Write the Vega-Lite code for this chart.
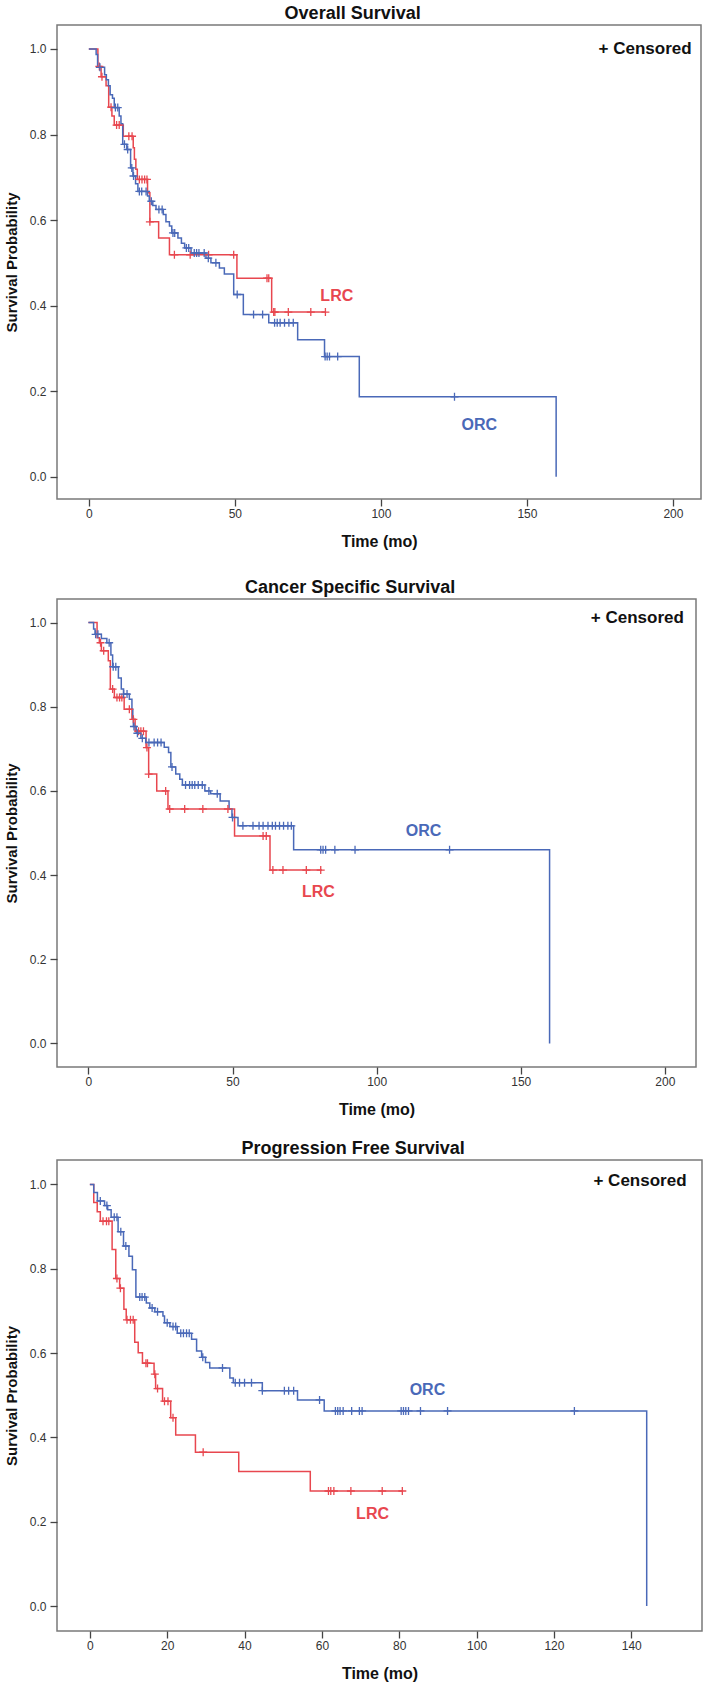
{
  "$schema": "https://vega.github.io/schema/vega-lite/v6.json",
  "padding": {"left": 3, "top": 4, "right": 5, "bottom": 4},
  "config": {
    "font": "Liberation Sans",
    "view": {"stroke": "#7a7a7a", "strokeWidth": 1.5},
    "axis": {
      "grid": false,
      "domain": false,
      "tickColor": "#444",
      "tickSize": 7,
      "tickWidth": 1.3,
      "labelFont": "Liberation Sans",
      "labelFontSize": 12,
      "labelColor": "#333",
      "titleFont": "Liberation Sans",
      "titleFontSize": 16,
      "titleFontWeight": "bold",
      "titleColor": "#111"
    },
    "axisX": {"labelPadding": 2, "titlePadding": 14},
    "axisY": {"labelPadding": 4, "titlePadding": 10, "titleFontSize": 15},
    "title": {"font": "Liberation Sans", "fontSize": 18, "fontWeight": "bold", "color": "#111", "offset": 2, "anchor": "middle", "frame": "bounds"}
  },
  "datasets": {
    "curves": [
      {"panel": "OS", "group": "LRC", "time": 0, "surv": 1},
      {"panel": "OS", "group": "LRC", "time": 3.1, "surv": 0.959},
      {"panel": "OS", "group": "LRC", "time": 4.2, "surv": 0.935},
      {"panel": "OS", "group": "LRC", "time": 5.9, "surv": 0.914},
      {"panel": "OS", "group": "LRC", "time": 6.8, "surv": 0.864},
      {"panel": "OS", "group": "LRC", "time": 7.9, "surv": 0.843},
      {"panel": "OS", "group": "LRC", "time": 8.7, "surv": 0.822},
      {"panel": "OS", "group": "LRC", "time": 11.8, "surv": 0.796},
      {"panel": "OS", "group": "LRC", "time": 15.2, "surv": 0.769},
      {"panel": "OS", "group": "LRC", "time": 15.6, "surv": 0.742},
      {"panel": "OS", "group": "LRC", "time": 16.1, "surv": 0.719},
      {"panel": "OS", "group": "LRC", "time": 16.6, "surv": 0.695},
      {"panel": "OS", "group": "LRC", "time": 20.1, "surv": 0.664},
      {"panel": "OS", "group": "LRC", "time": 20.9, "surv": 0.596},
      {"panel": "OS", "group": "LRC", "time": 23.9, "surv": 0.558},
      {"panel": "OS", "group": "LRC", "time": 27.6, "surv": 0.519},
      {"panel": "OS", "group": "LRC", "time": 50.7, "surv": 0.464},
      {"panel": "OS", "group": "LRC", "time": 62.6, "surv": 0.385},
      {"panel": "OS", "group": "LRC", "time": 81, "surv": 0.385},
      {"panel": "OS", "group": "ORC", "time": 0, "surv": 1},
      {"panel": "OS", "group": "ORC", "time": 2.5, "surv": 0.987},
      {"panel": "OS", "group": "ORC", "time": 3.0, "surv": 0.957},
      {"panel": "OS", "group": "ORC", "time": 5.4, "surv": 0.94},
      {"panel": "OS", "group": "ORC", "time": 6.0, "surv": 0.928},
      {"panel": "OS", "group": "ORC", "time": 6.7, "surv": 0.914},
      {"panel": "OS", "group": "ORC", "time": 7.3, "surv": 0.893},
      {"panel": "OS", "group": "ORC", "time": 8.1, "surv": 0.885},
      {"panel": "OS", "group": "ORC", "time": 8.7, "surv": 0.863},
      {"panel": "OS", "group": "ORC", "time": 10.4, "surv": 0.843},
      {"panel": "OS", "group": "ORC", "time": 11.0, "surv": 0.825},
      {"panel": "OS", "group": "ORC", "time": 11.6, "surv": 0.777},
      {"panel": "OS", "group": "ORC", "time": 13.0, "surv": 0.765},
      {"panel": "OS", "group": "ORC", "time": 14.3, "surv": 0.722},
      {"panel": "OS", "group": "ORC", "time": 15.1, "surv": 0.703},
      {"panel": "OS", "group": "ORC", "time": 16.0, "surv": 0.685},
      {"panel": "OS", "group": "ORC", "time": 16.8, "surv": 0.667},
      {"panel": "OS", "group": "ORC", "time": 20.1, "surv": 0.656},
      {"panel": "OS", "group": "ORC", "time": 20.7, "surv": 0.644},
      {"panel": "OS", "group": "ORC", "time": 21.9, "surv": 0.634},
      {"panel": "OS", "group": "ORC", "time": 23.0, "surv": 0.625},
      {"panel": "OS", "group": "ORC", "time": 25.5, "surv": 0.613},
      {"panel": "OS", "group": "ORC", "time": 26.4, "surv": 0.596},
      {"panel": "OS", "group": "ORC", "time": 27.6, "surv": 0.586},
      {"panel": "OS", "group": "ORC", "time": 28.4, "surv": 0.57},
      {"panel": "OS", "group": "ORC", "time": 30.5, "surv": 0.558},
      {"panel": "OS", "group": "ORC", "time": 31.7, "surv": 0.546},
      {"panel": "OS", "group": "ORC", "time": 32.8, "surv": 0.535},
      {"panel": "OS", "group": "ORC", "time": 35.0, "surv": 0.523},
      {"panel": "OS", "group": "ORC", "time": 40.1, "surv": 0.511},
      {"panel": "OS", "group": "ORC", "time": 41.8, "surv": 0.5},
      {"panel": "OS", "group": "ORC", "time": 44.7, "surv": 0.488},
      {"panel": "OS", "group": "ORC", "time": 46.4, "surv": 0.474},
      {"panel": "OS", "group": "ORC", "time": 49.6, "surv": 0.426},
      {"panel": "OS", "group": "ORC", "time": 52.9, "surv": 0.379},
      {"panel": "OS", "group": "ORC", "time": 61.6, "surv": 0.36},
      {"panel": "OS", "group": "ORC", "time": 71.5, "surv": 0.32},
      {"panel": "OS", "group": "ORC", "time": 80.7, "surv": 0.281},
      {"panel": "OS", "group": "ORC", "time": 92.6, "surv": 0.187},
      {"panel": "OS", "group": "ORC", "time": 160, "surv": 0},
      {"panel": "CSS", "group": "LRC", "time": 0, "surv": 1},
      {"panel": "CSS", "group": "LRC", "time": 3.0, "surv": 0.964},
      {"panel": "CSS", "group": "LRC", "time": 3.8, "surv": 0.952},
      {"panel": "CSS", "group": "LRC", "time": 4.5, "surv": 0.933},
      {"panel": "CSS", "group": "LRC", "time": 6.9, "surv": 0.909},
      {"panel": "CSS", "group": "LRC", "time": 7.6, "surv": 0.842},
      {"panel": "CSS", "group": "LRC", "time": 9.0, "surv": 0.822},
      {"panel": "CSS", "group": "LRC", "time": 12.4, "surv": 0.794},
      {"panel": "CSS", "group": "LRC", "time": 15.1, "surv": 0.77},
      {"panel": "CSS", "group": "LRC", "time": 16.2, "surv": 0.742},
      {"panel": "CSS", "group": "LRC", "time": 20.0, "surv": 0.703},
      {"panel": "CSS", "group": "LRC", "time": 20.9, "surv": 0.64},
      {"panel": "CSS", "group": "LRC", "time": 23.7, "surv": 0.6},
      {"panel": "CSS", "group": "LRC", "time": 27.6, "surv": 0.557},
      {"panel": "CSS", "group": "LRC", "time": 50.7, "surv": 0.493},
      {"panel": "CSS", "group": "LRC", "time": 63, "surv": 0.412},
      {"panel": "CSS", "group": "LRC", "time": 81, "surv": 0.412},
      {"panel": "CSS", "group": "ORC", "time": 0, "surv": 1},
      {"panel": "CSS", "group": "ORC", "time": 1.8, "surv": 0.985},
      {"panel": "CSS", "group": "ORC", "time": 2.3, "surv": 0.972},
      {"panel": "CSS", "group": "ORC", "time": 4.5, "surv": 0.962},
      {"panel": "CSS", "group": "ORC", "time": 6.4, "surv": 0.952},
      {"panel": "CSS", "group": "ORC", "time": 7.8, "surv": 0.923},
      {"panel": "CSS", "group": "ORC", "time": 8.4, "surv": 0.895},
      {"panel": "CSS", "group": "ORC", "time": 10.4, "surv": 0.868},
      {"panel": "CSS", "group": "ORC", "time": 11.4, "surv": 0.842},
      {"panel": "CSS", "group": "ORC", "time": 12.2, "surv": 0.83},
      {"panel": "CSS", "group": "ORC", "time": 14.2, "surv": 0.818},
      {"panel": "CSS", "group": "ORC", "time": 15.1, "surv": 0.794},
      {"panel": "CSS", "group": "ORC", "time": 15.4, "surv": 0.774},
      {"panel": "CSS", "group": "ORC", "time": 15.6, "surv": 0.753},
      {"panel": "CSS", "group": "ORC", "time": 16.6, "surv": 0.737},
      {"panel": "CSS", "group": "ORC", "time": 18.2, "surv": 0.725},
      {"panel": "CSS", "group": "ORC", "time": 19.9, "surv": 0.715},
      {"panel": "CSS", "group": "ORC", "time": 26.3, "surv": 0.704},
      {"panel": "CSS", "group": "ORC", "time": 27.8, "surv": 0.691},
      {"panel": "CSS", "group": "ORC", "time": 28.6, "surv": 0.657},
      {"panel": "CSS", "group": "ORC", "time": 30.3, "surv": 0.64},
      {"panel": "CSS", "group": "ORC", "time": 31.7, "surv": 0.628},
      {"panel": "CSS", "group": "ORC", "time": 32.6, "surv": 0.614},
      {"panel": "CSS", "group": "ORC", "time": 40.4, "surv": 0.6},
      {"panel": "CSS", "group": "ORC", "time": 42.4, "surv": 0.593},
      {"panel": "CSS", "group": "ORC", "time": 45.7, "surv": 0.576},
      {"panel": "CSS", "group": "ORC", "time": 48.8, "surv": 0.557},
      {"panel": "CSS", "group": "ORC", "time": 49.8, "surv": 0.537},
      {"panel": "CSS", "group": "ORC", "time": 51.9, "surv": 0.517},
      {"panel": "CSS", "group": "ORC", "time": 71.2, "surv": 0.46},
      {"panel": "CSS", "group": "ORC", "time": 160, "surv": 0},
      {"panel": "PFS", "group": "LRC", "time": 0, "surv": 1},
      {"panel": "PFS", "group": "LRC", "time": 1.0, "surv": 0.957},
      {"panel": "PFS", "group": "LRC", "time": 1.9, "surv": 0.935},
      {"panel": "PFS", "group": "LRC", "time": 2.7, "surv": 0.913},
      {"panel": "PFS", "group": "LRC", "time": 5.75, "surv": 0.846},
      {"panel": "PFS", "group": "LRC", "time": 6.7, "surv": 0.777},
      {"panel": "PFS", "group": "LRC", "time": 7.7, "surv": 0.754},
      {"panel": "PFS", "group": "LRC", "time": 8.8, "surv": 0.704},
      {"panel": "PFS", "group": "LRC", "time": 9.4, "surv": 0.679},
      {"panel": "PFS", "group": "LRC", "time": 11.6, "surv": 0.626},
      {"panel": "PFS", "group": "LRC", "time": 12.5, "surv": 0.601},
      {"panel": "PFS", "group": "LRC", "time": 13.6, "surv": 0.576},
      {"panel": "PFS", "group": "LRC", "time": 16.6, "surv": 0.55},
      {"panel": "PFS", "group": "LRC", "time": 17.0, "surv": 0.516},
      {"panel": "PFS", "group": "LRC", "time": 18.8, "surv": 0.486},
      {"panel": "PFS", "group": "LRC", "time": 20.9, "surv": 0.447},
      {"panel": "PFS", "group": "LRC", "time": 22.2, "surv": 0.406},
      {"panel": "PFS", "group": "LRC", "time": 27.3, "surv": 0.365},
      {"panel": "PFS", "group": "LRC", "time": 38.5, "surv": 0.319},
      {"panel": "PFS", "group": "LRC", "time": 57.0, "surv": 0.273},
      {"panel": "PFS", "group": "LRC", "time": 81, "surv": 0.273},
      {"panel": "PFS", "group": "ORC", "time": 0, "surv": 1},
      {"panel": "PFS", "group": "ORC", "time": 1.0, "surv": 0.981},
      {"panel": "PFS", "group": "ORC", "time": 1.95, "surv": 0.961},
      {"panel": "PFS", "group": "ORC", "time": 3.8, "surv": 0.95},
      {"panel": "PFS", "group": "ORC", "time": 4.6, "surv": 0.94},
      {"panel": "PFS", "group": "ORC", "time": 5.5, "surv": 0.922},
      {"panel": "PFS", "group": "ORC", "time": 7.3, "surv": 0.888},
      {"panel": "PFS", "group": "ORC", "time": 8.7, "surv": 0.854},
      {"panel": "PFS", "group": "ORC", "time": 10.1, "surv": 0.83},
      {"panel": "PFS", "group": "ORC", "time": 11.0, "surv": 0.798},
      {"panel": "PFS", "group": "ORC", "time": 11.9, "surv": 0.733},
      {"panel": "PFS", "group": "ORC", "time": 14.6, "surv": 0.719},
      {"panel": "PFS", "group": "ORC", "time": 15.5, "surv": 0.707},
      {"panel": "PFS", "group": "ORC", "time": 16.8, "surv": 0.698},
      {"panel": "PFS", "group": "ORC", "time": 18.9, "surv": 0.688},
      {"panel": "PFS", "group": "ORC", "time": 19.3, "surv": 0.672},
      {"panel": "PFS", "group": "ORC", "time": 20.7, "surv": 0.663},
      {"panel": "PFS", "group": "ORC", "time": 22.6, "surv": 0.647},
      {"panel": "PFS", "group": "ORC", "time": 26.3, "surv": 0.633},
      {"panel": "PFS", "group": "ORC", "time": 27.6, "surv": 0.605},
      {"panel": "PFS", "group": "ORC", "time": 28.9, "surv": 0.59},
      {"panel": "PFS", "group": "ORC", "time": 29.9, "surv": 0.578},
      {"panel": "PFS", "group": "ORC", "time": 31.0, "surv": 0.565},
      {"panel": "PFS", "group": "ORC", "time": 36.2, "surv": 0.541},
      {"panel": "PFS", "group": "ORC", "time": 37.1, "surv": 0.53},
      {"panel": "PFS", "group": "ORC", "time": 44.6, "surv": 0.511},
      {"panel": "PFS", "group": "ORC", "time": 53.7, "surv": 0.489},
      {"panel": "PFS", "group": "ORC", "time": 60.6, "surv": 0.463},
      {"panel": "PFS", "group": "ORC", "time": 144, "surv": 0}
    ],
    "censored": [
      {"panel": "OS", "group": "LRC", "time": 3.6, "surv": 0.959},
      {"panel": "OS", "group": "LRC", "time": 4.5, "surv": 0.935},
      {"panel": "OS", "group": "LRC", "time": 7.6, "surv": 0.864},
      {"panel": "OS", "group": "LRC", "time": 9.5, "surv": 0.822},
      {"panel": "OS", "group": "LRC", "time": 10.4, "surv": 0.822},
      {"panel": "OS", "group": "LRC", "time": 13.7, "surv": 0.796},
      {"panel": "OS", "group": "LRC", "time": 14.8, "surv": 0.796},
      {"panel": "OS", "group": "LRC", "time": 17.3, "surv": 0.695},
      {"panel": "OS", "group": "LRC", "time": 18.2, "surv": 0.695},
      {"panel": "OS", "group": "LRC", "time": 19.1, "surv": 0.695},
      {"panel": "OS", "group": "LRC", "time": 19.9, "surv": 0.695},
      {"panel": "OS", "group": "LRC", "time": 20.9, "surv": 0.596},
      {"panel": "OS", "group": "LRC", "time": 29.3, "surv": 0.519},
      {"panel": "OS", "group": "LRC", "time": 34.7, "surv": 0.519},
      {"panel": "OS", "group": "LRC", "time": 41, "surv": 0.519},
      {"panel": "OS", "group": "LRC", "time": 49.6, "surv": 0.519},
      {"panel": "OS", "group": "LRC", "time": 61, "surv": 0.464},
      {"panel": "OS", "group": "LRC", "time": 61.6, "surv": 0.464},
      {"panel": "OS", "group": "LRC", "time": 63.3, "surv": 0.385},
      {"panel": "OS", "group": "LRC", "time": 63.7, "surv": 0.385},
      {"panel": "OS", "group": "LRC", "time": 68.3, "surv": 0.385},
      {"panel": "OS", "group": "LRC", "time": 76, "surv": 0.385},
      {"panel": "OS", "group": "LRC", "time": 81, "surv": 0.385},
      {"panel": "OS", "group": "ORC", "time": 3.8, "surv": 0.957},
      {"panel": "OS", "group": "ORC", "time": 9.1, "surv": 0.863},
      {"panel": "OS", "group": "ORC", "time": 9.9, "surv": 0.863},
      {"panel": "OS", "group": "ORC", "time": 12.2, "surv": 0.777},
      {"panel": "OS", "group": "ORC", "time": 13.3, "surv": 0.765},
      {"panel": "OS", "group": "ORC", "time": 14.7, "surv": 0.722},
      {"panel": "OS", "group": "ORC", "time": 15.3, "surv": 0.703},
      {"panel": "OS", "group": "ORC", "time": 17.3, "surv": 0.667},
      {"panel": "OS", "group": "ORC", "time": 18.1, "surv": 0.667},
      {"panel": "OS", "group": "ORC", "time": 19.6, "surv": 0.667},
      {"panel": "OS", "group": "ORC", "time": 21.4, "surv": 0.644},
      {"panel": "OS", "group": "ORC", "time": 24.0, "surv": 0.625},
      {"panel": "OS", "group": "ORC", "time": 25.1, "surv": 0.625},
      {"panel": "OS", "group": "ORC", "time": 28.8, "surv": 0.57},
      {"panel": "OS", "group": "ORC", "time": 29.4, "surv": 0.57},
      {"panel": "OS", "group": "ORC", "time": 33.4, "surv": 0.535},
      {"panel": "OS", "group": "ORC", "time": 34.2, "surv": 0.535},
      {"panel": "OS", "group": "ORC", "time": 36.1, "surv": 0.523},
      {"panel": "OS", "group": "ORC", "time": 36.9, "surv": 0.523},
      {"panel": "OS", "group": "ORC", "time": 37.7, "surv": 0.523},
      {"panel": "OS", "group": "ORC", "time": 39.5, "surv": 0.523},
      {"panel": "OS", "group": "ORC", "time": 40.9, "surv": 0.511},
      {"panel": "OS", "group": "ORC", "time": 43.5, "surv": 0.5},
      {"panel": "OS", "group": "ORC", "time": 50.8, "surv": 0.426},
      {"panel": "OS", "group": "ORC", "time": 56.4, "surv": 0.379},
      {"panel": "OS", "group": "ORC", "time": 59.5, "surv": 0.379},
      {"panel": "OS", "group": "ORC", "time": 63.6, "surv": 0.36},
      {"panel": "OS", "group": "ORC", "time": 64.5, "surv": 0.36},
      {"panel": "OS", "group": "ORC", "time": 65.5, "surv": 0.36},
      {"panel": "OS", "group": "ORC", "time": 67, "surv": 0.36},
      {"panel": "OS", "group": "ORC", "time": 68.5, "surv": 0.36},
      {"panel": "OS", "group": "ORC", "time": 70, "surv": 0.36},
      {"panel": "OS", "group": "ORC", "time": 80.9, "surv": 0.281},
      {"panel": "OS", "group": "ORC", "time": 81.6, "surv": 0.281},
      {"panel": "OS", "group": "ORC", "time": 82.4, "surv": 0.281},
      {"panel": "OS", "group": "ORC", "time": 85.2, "surv": 0.281},
      {"panel": "OS", "group": "ORC", "time": 125.2, "surv": 0.187},
      {"panel": "CSS", "group": "LRC", "time": 4.2, "surv": 0.952},
      {"panel": "CSS", "group": "LRC", "time": 5.3, "surv": 0.933},
      {"panel": "CSS", "group": "LRC", "time": 8.4, "surv": 0.842},
      {"panel": "CSS", "group": "LRC", "time": 9.9, "surv": 0.822},
      {"panel": "CSS", "group": "LRC", "time": 10.8, "surv": 0.822},
      {"panel": "CSS", "group": "LRC", "time": 11.6, "surv": 0.822},
      {"panel": "CSS", "group": "LRC", "time": 14.2, "surv": 0.794},
      {"panel": "CSS", "group": "LRC", "time": 15.6, "surv": 0.77},
      {"panel": "CSS", "group": "LRC", "time": 17.4, "surv": 0.742},
      {"panel": "CSS", "group": "LRC", "time": 18.2, "surv": 0.742},
      {"panel": "CSS", "group": "LRC", "time": 19.1, "surv": 0.742},
      {"panel": "CSS", "group": "LRC", "time": 20.3, "surv": 0.703},
      {"panel": "CSS", "group": "LRC", "time": 20.9, "surv": 0.64},
      {"panel": "CSS", "group": "LRC", "time": 26.8, "surv": 0.6},
      {"panel": "CSS", "group": "LRC", "time": 28.2, "surv": 0.557},
      {"panel": "CSS", "group": "LRC", "time": 33.4, "surv": 0.557},
      {"panel": "CSS", "group": "LRC", "time": 39.7, "surv": 0.557},
      {"panel": "CSS", "group": "LRC", "time": 48.4, "surv": 0.557},
      {"panel": "CSS", "group": "LRC", "time": 60.6, "surv": 0.493},
      {"panel": "CSS", "group": "LRC", "time": 61.7, "surv": 0.493},
      {"panel": "CSS", "group": "LRC", "time": 64, "surv": 0.412},
      {"panel": "CSS", "group": "LRC", "time": 67.5, "surv": 0.412},
      {"panel": "CSS", "group": "LRC", "time": 75.6, "surv": 0.412},
      {"panel": "CSS", "group": "LRC", "time": 80.6, "surv": 0.412},
      {"panel": "CSS", "group": "ORC", "time": 2.5, "surv": 0.972},
      {"panel": "CSS", "group": "ORC", "time": 3.3, "surv": 0.972},
      {"panel": "CSS", "group": "ORC", "time": 7.2, "surv": 0.952},
      {"panel": "CSS", "group": "ORC", "time": 8.6, "surv": 0.895},
      {"panel": "CSS", "group": "ORC", "time": 9.5, "surv": 0.895},
      {"panel": "CSS", "group": "ORC", "time": 12.2, "surv": 0.83},
      {"panel": "CSS", "group": "ORC", "time": 13.4, "surv": 0.83},
      {"panel": "CSS", "group": "ORC", "time": 15.8, "surv": 0.753},
      {"panel": "CSS", "group": "ORC", "time": 17.0, "surv": 0.737},
      {"panel": "CSS", "group": "ORC", "time": 18.7, "surv": 0.725},
      {"panel": "CSS", "group": "ORC", "time": 21.0, "surv": 0.715},
      {"panel": "CSS", "group": "ORC", "time": 22.8, "surv": 0.715},
      {"panel": "CSS", "group": "ORC", "time": 24.0, "surv": 0.715},
      {"panel": "CSS", "group": "ORC", "time": 25.2, "surv": 0.715},
      {"panel": "CSS", "group": "ORC", "time": 29.0, "surv": 0.657},
      {"panel": "CSS", "group": "ORC", "time": 33.7, "surv": 0.614},
      {"panel": "CSS", "group": "ORC", "time": 35.1, "surv": 0.614},
      {"panel": "CSS", "group": "ORC", "time": 36.0, "surv": 0.614},
      {"panel": "CSS", "group": "ORC", "time": 36.9, "surv": 0.614},
      {"panel": "CSS", "group": "ORC", "time": 38.1, "surv": 0.614},
      {"panel": "CSS", "group": "ORC", "time": 39.5, "surv": 0.614},
      {"panel": "CSS", "group": "ORC", "time": 41.8, "surv": 0.6},
      {"panel": "CSS", "group": "ORC", "time": 44.7, "surv": 0.593},
      {"panel": "CSS", "group": "ORC", "time": 50.0, "surv": 0.537},
      {"panel": "CSS", "group": "ORC", "time": 53.6, "surv": 0.517},
      {"panel": "CSS", "group": "ORC", "time": 57.1, "surv": 0.517},
      {"panel": "CSS", "group": "ORC", "time": 59.2, "surv": 0.517},
      {"panel": "CSS", "group": "ORC", "time": 60.6, "surv": 0.517},
      {"panel": "CSS", "group": "ORC", "time": 62.3, "surv": 0.517},
      {"panel": "CSS", "group": "ORC", "time": 63.8, "surv": 0.517},
      {"panel": "CSS", "group": "ORC", "time": 64.9, "surv": 0.517},
      {"panel": "CSS", "group": "ORC", "time": 66.3, "surv": 0.517},
      {"panel": "CSS", "group": "ORC", "time": 67.7, "surv": 0.517},
      {"panel": "CSS", "group": "ORC", "time": 69.2, "surv": 0.517},
      {"panel": "CSS", "group": "ORC", "time": 70.4, "surv": 0.517},
      {"panel": "CSS", "group": "ORC", "time": 80.6, "surv": 0.46},
      {"panel": "CSS", "group": "ORC", "time": 81.4, "surv": 0.46},
      {"panel": "CSS", "group": "ORC", "time": 82.3, "surv": 0.46},
      {"panel": "CSS", "group": "ORC", "time": 85.5, "surv": 0.46},
      {"panel": "CSS", "group": "ORC", "time": 92.5, "surv": 0.46},
      {"panel": "CSS", "group": "ORC", "time": 125.3, "surv": 0.46},
      {"panel": "PFS", "group": "LRC", "time": 3.4, "surv": 0.913},
      {"panel": "PFS", "group": "LRC", "time": 4.3, "surv": 0.913},
      {"panel": "PFS", "group": "LRC", "time": 4.9, "surv": 0.913},
      {"panel": "PFS", "group": "LRC", "time": 7.0, "surv": 0.777},
      {"panel": "PFS", "group": "LRC", "time": 7.9, "surv": 0.754},
      {"panel": "PFS", "group": "LRC", "time": 9.6, "surv": 0.679},
      {"panel": "PFS", "group": "LRC", "time": 10.5, "surv": 0.679},
      {"panel": "PFS", "group": "LRC", "time": 11.2, "surv": 0.679},
      {"panel": "PFS", "group": "LRC", "time": 14.5, "surv": 0.576},
      {"panel": "PFS", "group": "LRC", "time": 14.9, "surv": 0.576},
      {"panel": "PFS", "group": "LRC", "time": 16.8, "surv": 0.55},
      {"panel": "PFS", "group": "LRC", "time": 17.5, "surv": 0.516},
      {"panel": "PFS", "group": "LRC", "time": 19.3, "surv": 0.486},
      {"panel": "PFS", "group": "LRC", "time": 20.2, "surv": 0.486},
      {"panel": "PFS", "group": "LRC", "time": 21.5, "surv": 0.447},
      {"panel": "PFS", "group": "LRC", "time": 29.3, "surv": 0.365},
      {"panel": "PFS", "group": "LRC", "time": 61.7, "surv": 0.273},
      {"panel": "PFS", "group": "LRC", "time": 62.3, "surv": 0.273},
      {"panel": "PFS", "group": "LRC", "time": 63.1, "surv": 0.273},
      {"panel": "PFS", "group": "LRC", "time": 67.5, "surv": 0.273},
      {"panel": "PFS", "group": "LRC", "time": 75.6, "surv": 0.273},
      {"panel": "PFS", "group": "LRC", "time": 80.8, "surv": 0.273},
      {"panel": "PFS", "group": "ORC", "time": 2.7, "surv": 0.961},
      {"panel": "PFS", "group": "ORC", "time": 4.4, "surv": 0.95},
      {"panel": "PFS", "group": "ORC", "time": 6.3, "surv": 0.922},
      {"panel": "PFS", "group": "ORC", "time": 7.0, "surv": 0.922},
      {"panel": "PFS", "group": "ORC", "time": 8.0, "surv": 0.888},
      {"panel": "PFS", "group": "ORC", "time": 9.3, "surv": 0.854},
      {"panel": "PFS", "group": "ORC", "time": 12.9, "surv": 0.733},
      {"panel": "PFS", "group": "ORC", "time": 13.5, "surv": 0.733},
      {"panel": "PFS", "group": "ORC", "time": 14.2, "surv": 0.733},
      {"panel": "PFS", "group": "ORC", "time": 16.1, "surv": 0.707},
      {"panel": "PFS", "group": "ORC", "time": 17.5, "surv": 0.698},
      {"panel": "PFS", "group": "ORC", "time": 20.0, "surv": 0.672},
      {"panel": "PFS", "group": "ORC", "time": 21.5, "surv": 0.663},
      {"panel": "PFS", "group": "ORC", "time": 22.2, "surv": 0.663},
      {"panel": "PFS", "group": "ORC", "time": 23.5, "surv": 0.647},
      {"panel": "PFS", "group": "ORC", "time": 24.2, "surv": 0.647},
      {"panel": "PFS", "group": "ORC", "time": 25.0, "surv": 0.647},
      {"panel": "PFS", "group": "ORC", "time": 25.7, "surv": 0.647},
      {"panel": "PFS", "group": "ORC", "time": 29.2, "surv": 0.59},
      {"panel": "PFS", "group": "ORC", "time": 34.3, "surv": 0.565},
      {"panel": "PFS", "group": "ORC", "time": 37.6, "surv": 0.53},
      {"panel": "PFS", "group": "ORC", "time": 38.7, "surv": 0.53},
      {"panel": "PFS", "group": "ORC", "time": 40.0, "surv": 0.53},
      {"panel": "PFS", "group": "ORC", "time": 41.8, "surv": 0.53},
      {"panel": "PFS", "group": "ORC", "time": 44.6, "surv": 0.511},
      {"panel": "PFS", "group": "ORC", "time": 50.3, "surv": 0.511},
      {"panel": "PFS", "group": "ORC", "time": 51.4, "surv": 0.511},
      {"panel": "PFS", "group": "ORC", "time": 52.7, "surv": 0.511},
      {"panel": "PFS", "group": "ORC", "time": 59.4, "surv": 0.489},
      {"panel": "PFS", "group": "ORC", "time": 63.5, "surv": 0.463},
      {"panel": "PFS", "group": "ORC", "time": 64.1, "surv": 0.463},
      {"panel": "PFS", "group": "ORC", "time": 64.7, "surv": 0.463},
      {"panel": "PFS", "group": "ORC", "time": 65.5, "surv": 0.463},
      {"panel": "PFS", "group": "ORC", "time": 67.7, "surv": 0.463},
      {"panel": "PFS", "group": "ORC", "time": 69.7, "surv": 0.463},
      {"panel": "PFS", "group": "ORC", "time": 70.4, "surv": 0.463},
      {"panel": "PFS", "group": "ORC", "time": 80.5, "surv": 0.463},
      {"panel": "PFS", "group": "ORC", "time": 81.1, "surv": 0.463},
      {"panel": "PFS", "group": "ORC", "time": 81.7, "surv": 0.463},
      {"panel": "PFS", "group": "ORC", "time": 82.4, "surv": 0.463},
      {"panel": "PFS", "group": "ORC", "time": 85.5, "surv": 0.463},
      {"panel": "PFS", "group": "ORC", "time": 92.5, "surv": 0.463},
      {"panel": "PFS", "group": "ORC", "time": 125.3, "surv": 0.463}
    ],
    "labels": [
      {"panel": "OS", "group": "LRC", "time": 84.9, "surv": 0.423},
      {"panel": "OS", "group": "ORC", "time": 133.7, "surv": 0.122},
      {"panel": "CSS", "group": "ORC", "time": 116.3, "surv": 0.505},
      {"panel": "CSS", "group": "LRC", "time": 79.8, "surv": 0.359},
      {"panel": "PFS", "group": "ORC", "time": 87.3, "surv": 0.512},
      {"panel": "PFS", "group": "LRC", "time": 73.1, "surv": 0.2175}
    ],
    "notes": [
      {"panel": "OS", "time": 206.4, "surv": 0.999, "note": "+ Censored"},
      {"panel": "CSS", "time": 206.6, "surv": 1.012, "note": "+ Censored"},
      {"panel": "PFS", "time": 154.3, "surv": 1.008, "note": "+ Censored"}
    ]
  },
  "spacing": 28,
  "vconcat": [
    {
      "title": "Overall Survival",
      "width": 644,
      "height": 474,
      "encoding": {
        "x": {"field": "time", "type": "quantitative", "title": "Time (mo)",
              "scale": {"domain": [-10.9, 209.6], "nice": false, "zero": false},
              "axis": {"values": [0, 50, 100, 150, 200]}},
        "y": {"field": "surv", "type": "quantitative", "title": "Survival Probability",
              "scale": {"domain": [-0.052, 1.056], "nice": false, "zero": false},
              "axis": {"values": [0, 0.2, 0.4, 0.6, 0.8, 1.0], "format": ".1f"}}
      },
      "layer": [
        {
          "data": {"name": "curves"},
          "transform": [{"filter": "datum.panel == 'OS'"}],
          "mark": {"type": "line", "interpolate": "step-after", "strokeWidth": 1.5},
          "encoding": {"color": {"field": "group", "type": "nominal", "legend": null,
                                 "scale": {"domain": ["LRC", "ORC"], "range": ["#e8474f", "#4a69b8"]}}}
        },
        {
          "data": {"name": "censored"},
          "transform": [{"filter": "datum.panel == 'OS'"}],
          "mark": {"type": "point", "shape": "M-1,0L1,0M0,-1L0,1", "size": 64, "filled": false, "strokeWidth": 1.3, "opacity": 1},
          "encoding": {"color": {"field": "group", "type": "nominal", "legend": null}}
        },
        {
          "data": {"name": "labels"},
          "transform": [{"filter": "datum.panel == 'OS'"}],
          "mark": {"type": "text", "fontSize": 16, "fontWeight": "bold"},
          "encoding": {"text": {"field": "group"}, "color": {"field": "group", "type": "nominal", "legend": null}}
        },
        {
          "data": {"name": "notes"},
          "transform": [{"filter": "datum.panel == 'OS'"}],
          "mark": {"type": "text", "fontSize": 17, "fontWeight": "bold", "align": "right", "color": "#111"},
          "encoding": {"text": {"field": "note"}}
        }
      ]
    },
    {
      "spacing": 21,
      "vconcat": [
        {
          "title": "Cancer Specific Survival",
          "width": 639,
          "height": 468,
          "encoding": {
            "x": {"field": "time", "type": "quantitative", "title": "Time (mo)",
                  "scale": {"domain": [-10.9, 210.8], "nice": false, "zero": false},
                  "axis": {"values": [0, 50, 100, 150, 200]}},
            "y": {"field": "surv", "type": "quantitative", "title": "Survival Probability",
                  "scale": {"domain": [-0.056, 1.056], "nice": false, "zero": false},
                  "axis": {"values": [0, 0.2, 0.4, 0.6, 0.8, 1.0], "format": ".1f"}}
          },
          "layer": [
            {
              "data": {"name": "curves"},
              "transform": [{"filter": "datum.panel == 'CSS'"}],
              "mark": {"type": "line", "interpolate": "step-after", "strokeWidth": 1.5},
              "encoding": {"color": {"field": "group", "type": "nominal", "legend": null,
                                     "scale": {"domain": ["LRC", "ORC"], "range": ["#e8474f", "#4a69b8"]}}}
            },
            {
              "data": {"name": "censored"},
              "transform": [{"filter": "datum.panel == 'CSS'"}],
              "mark": {"type": "point", "shape": "M-1,0L1,0M0,-1L0,1", "size": 64, "filled": false, "strokeWidth": 1.3, "opacity": 1},
              "encoding": {"color": {"field": "group", "type": "nominal", "legend": null}}
            },
            {
              "data": {"name": "labels"},
              "transform": [{"filter": "datum.panel == 'CSS'"}],
              "mark": {"type": "text", "fontSize": 16, "fontWeight": "bold"},
              "encoding": {"text": {"field": "group"}, "color": {"field": "group", "type": "nominal", "legend": null}}
            },
            {
              "data": {"name": "notes"},
              "transform": [{"filter": "datum.panel == 'CSS'"}],
              "mark": {"type": "text", "fontSize": 17, "fontWeight": "bold", "align": "right", "color": "#111"},
              "encoding": {"text": {"field": "note"}}
            }
          ]
        },
        {
          "title": "Progression Free Survival",
          "width": 645,
          "height": 471,
          "encoding": {
            "x": {"field": "time", "type": "quantitative", "title": "Time (mo)",
                  "scale": {"domain": [-8.5, 158.3], "nice": false, "zero": false},
                  "axis": {"values": [0, 20, 40, 60, 80, 100, 120, 140]}},
            "y": {"field": "surv", "type": "quantitative", "title": "Survival Probability",
                  "scale": {"domain": [-0.059, 1.058], "nice": false, "zero": false},
                  "axis": {"values": [0, 0.2, 0.4, 0.6, 0.8, 1.0], "format": ".1f"}}
          },
          "layer": [
            {
              "data": {"name": "curves"},
              "transform": [{"filter": "datum.panel == 'PFS'"}],
              "mark": {"type": "line", "interpolate": "step-after", "strokeWidth": 1.5},
              "encoding": {"color": {"field": "group", "type": "nominal", "legend": null,
                                     "scale": {"domain": ["LRC", "ORC"], "range": ["#e8474f", "#4a69b8"]}}}
            },
            {
              "data": {"name": "censored"},
              "transform": [{"filter": "datum.panel == 'PFS'"}],
              "mark": {"type": "point", "shape": "M-1,0L1,0M0,-1L0,1", "size": 64, "filled": false, "strokeWidth": 1.3, "opacity": 1},
              "encoding": {"color": {"field": "group", "type": "nominal", "legend": null}}
            },
            {
              "data": {"name": "labels"},
              "transform": [{"filter": "datum.panel == 'PFS'"}],
              "mark": {"type": "text", "fontSize": 16, "fontWeight": "bold"},
              "encoding": {"text": {"field": "group"}, "color": {"field": "group", "type": "nominal", "legend": null}}
            },
            {
              "data": {"name": "notes"},
              "transform": [{"filter": "datum.panel == 'PFS'"}],
              "mark": {"type": "text", "fontSize": 17, "fontWeight": "bold", "align": "right", "color": "#111"},
              "encoding": {"text": {"field": "note"}}
            }
          ]
        }
      ]
    }
  ]
}
